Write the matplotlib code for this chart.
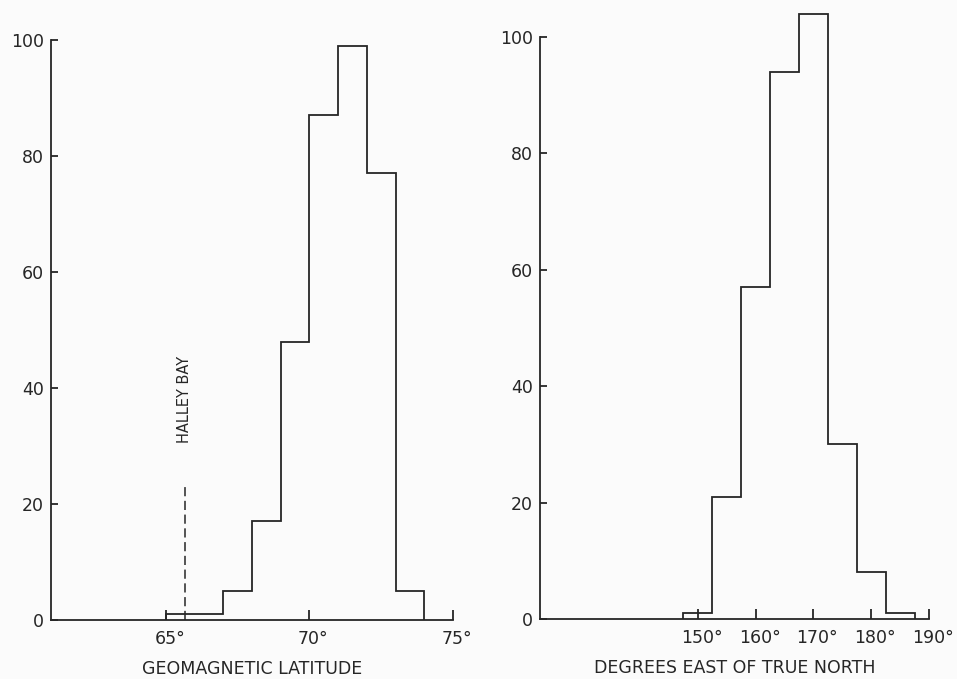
import numpy as np
import matplotlib
matplotlib.use("Agg")
import matplotlib.pyplot as plt
from matplotlib.transforms import ScaledTranslation

# left panel: geomagnetic latitude histogram (1 degree bins)
lat_edges = [65, 66, 67, 68, 69, 70, 71, 72, 73, 74]
lat_counts = [1, 1, 5, 17, 48, 87, 99, 77, 5]
lat_ticks = [65, 70, 75]
lat_labels = ["65°", "70°", "75°"]
halley_bay = 65.65

# right panel: direction, degrees east of true north (5 degree bins)
dir_edges = [147.5, 152.5, 157.5, 162.5, 167.5, 172.5, 177.5, 182.5, 187.5]
dir_counts = [1, 21, 57, 94, 104, 30, 8, 1]
dir_ticks = [150, 160, 170, 180, 190]
dir_labels = ["150°", "160°", "170°", "180°", "190°"]

y_ticks = [0, 20, 40, 60, 80, 100]

ink = "#262626"
fs = 12.5
lw = 1.3

fig = plt.figure(figsize=(9.57, 6.79), dpi=100)
fig.patch.set_facecolor("#fbfbfb")

ax1 = fig.add_axes([51 / 957, 59 / 679, 402 / 957, 580 / 679])
ax2 = fig.add_axes([540 / 957, 60 / 679, 389 / 957, 582 / 679])


def style(ax, xlim, xticks, xlabels, xlabel):
    ax.set_facecolor("none")
    ax.set_xlim(*xlim)
    ax.set_ylim(0, 100)
    for s in ["top", "right"]:
        ax.spines[s].set_visible(False)
    for s in ["left", "bottom"]:
        ax.spines[s].set_linewidth(lw)
        ax.spines[s].set_color(ink)
    ax.set_xticks(xticks)
    ax.set_xticklabels(xlabels)
    ax.set_yticks(y_ticks)
    ax.tick_params(axis="x", direction="in", length=7, width=lw, color=ink,
                   labelsize=fs, labelcolor=ink, pad=7)
    ax.tick_params(axis="y", direction="in", length=5, width=lw, color=ink,
                   labelsize=fs, labelcolor=ink, pad=5)
    # numbers centred on the tick, degree sign hanging to the right
    shift = ScaledTranslation(4 / 100, 0, fig.dpi_scale_trans)
    for lab in ax.get_xticklabels():
        lab.set_transform(lab.get_transform() + shift)
    ax.set_xlabel(xlabel, fontsize=fs, color=ink, labelpad=9)


ax1.stairs(lat_counts, lat_edges, baseline=0, fill=False, color=ink,
           linewidth=lw, clip_on=False)
ax1.plot([halley_bay, halley_bay], [0, 23.5], color=ink, linewidth=1.1,
         dashes=(6, 3))
ax1.text(halley_bay, 38, "HALLEY BAY", rotation=90, ha="center", va="center",
         fontsize=10.5, color=ink)
style(ax1, (61, 75), lat_ticks, lat_labels, "GEOMAGNETIC LATITUDE")

ax2.stairs(dir_counts, dir_edges, baseline=0, fill=False, color=ink,
           linewidth=lw, clip_on=False)
style(ax2, (122.7, 190), dir_ticks, dir_labels, "DEGREES EAST OF TRUE NORTH")

fig.savefig("out.png", dpi=100, facecolor=fig.get_facecolor())
